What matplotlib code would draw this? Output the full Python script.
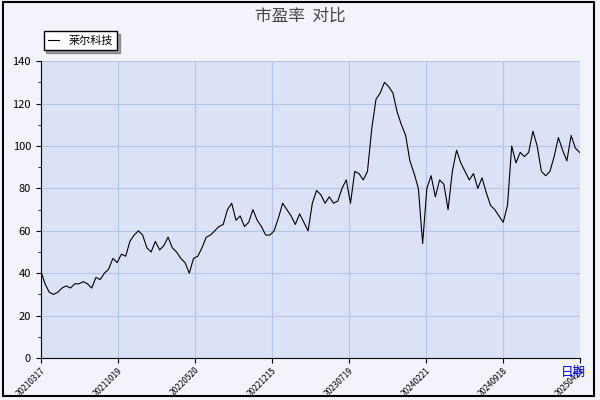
import numpy as np
import matplotlib.pyplot as plt
from matplotlib.patches import Rectangle

plt.rcParams['font.family'] = ['Noto Sans CJK SC', 'DejaVu Sans']

tick_labels = ["20210317", "20211019", "20220520", "20221215",
               "20230719", "20240221", "20240918", "20250423"]
pe = [41, 35, 31, 30, 31, 33, 34, 33, 35, 35, 36, 35, 33, 38, 37, 40, 42, 47, 45, 49,
      48, 55, 58, 60, 58, 52, 50, 55, 51, 53, 57, 52, 50, 47, 45, 40, 47, 48, 52, 57,
      58, 60, 62, 63, 70, 73, 65, 67, 62, 64, 70, 65, 62, 58, 58, 60, 66, 73, 70, 67,
      63, 68, 64, 60, 73, 79, 77, 73, 76, 73, 74, 80, 84, 73, 88, 87, 84, 88, 108, 122,
      125, 130, 128, 125, 116, 110, 105, 93, 87, 80, 54, 80, 86, 76, 84, 82, 70, 88, 98, 92,
      88, 84, 87, 80, 85, 78, 72, 70, 67, 64, 72, 100, 92, 97, 95, 97, 107, 100, 88, 86,
      88, 95, 104, 98, 93, 105, 99, 97]

fig = plt.figure(figsize=(6, 4), dpi=100, facecolor="#f2f3fb")
ax = fig.add_axes([0.068, 0.105, 0.898, 0.742])
ax.set_facecolor("#dce2f6")

x = np.arange(len(pe))
ax.plot(x, pe, color="black", lw=0.8, label="莱尔科技")

ax.set_xlim(0, len(pe) - 1)
ax.set_ylim(0, 140)
ax.set_yticks(range(0, 141, 20))
ax.set_yticks(range(0, 141, 10), minor=True)
ax.set_xticks(np.linspace(0, len(pe) - 1, len(tick_labels)))
ax.set_xticklabels(tick_labels, rotation=45, ha="right", rotation_mode="anchor", fontsize=6)
ax.tick_params(axis="x", pad=2)
ax.tick_params(axis="y", labelsize=8)
ax.grid(True, color="#b4c4e8", lw=0.8)
for s in ["top", "right"]:
    ax.spines[s].set_visible(False)

fig.text(0.5, 0.96, "市盈率  对比", ha="center", va="center", fontsize=12, color="#444444")
fig.text(0.955, 0.06, "日期", ha="center", fontsize=9, color="blue")
ax.legend(loc="upper left", bbox_to_anchor=(-0.005, 1.12), fontsize=8, frameon=True,
          fancybox=False, shadow=True, edgecolor="black", handlelength=1)

fig.patches.append(Rectangle((0.005, 0.01), 0.985, 0.985, transform=fig.transFigure,
                             fill=False, edgecolor="black", lw=1.5))
fig.savefig("out.png", facecolor=fig.get_facecolor())
